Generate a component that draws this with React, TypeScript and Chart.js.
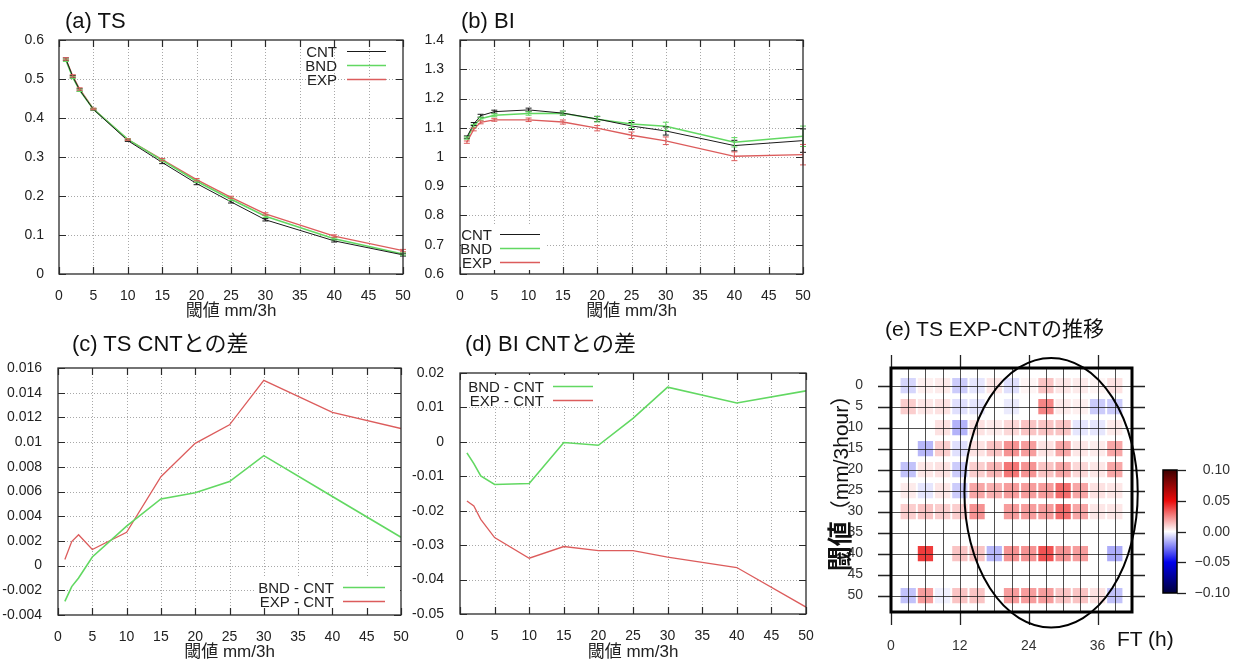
import React, { useEffect, useRef } from 'react';
import { Chart, registerables } from 'chart.js';
Chart.register(...registerables);

const FONT = "'Liberation Sans', 'Noto Sans CJK JP', Arial, sans-serif";
Chart.defaults.font.family = FONT;

// ---------- data ----------
const thresholds = [1, 2, 3, 5, 10, 15, 20, 25, 30, 40, 50];

const tsCNT = [0.551, 0.506, 0.472, 0.422, 0.342, 0.286, 0.232, 0.185, 0.139, 0.085, 0.049];
const tsBND = [0.548, 0.504, 0.471, 0.4227, 0.3452, 0.2914, 0.2379, 0.1918, 0.1479, 0.0906, 0.0513];
const tsEXP = [0.5515, 0.508, 0.4745, 0.4233, 0.3447, 0.2932, 0.2419, 0.1964, 0.154, 0.0974, 0.0601];
const tsErr = [0.003, 0.003, 0.003, 0.002, 0.002, 0.003, 0.003, 0.003, 0.003, 0.003, 0.003];

const biCNT = [1.068, 1.113, 1.141, 1.155, 1.161, 1.15, 1.13, 1.106, 1.089, 1.039, 1.056];
const biBND = [1.0648, 1.1067, 1.1311, 1.1426, 1.1489, 1.1498, 1.129, 1.1128, 1.1049, 1.0503, 1.0708];
const biEXP = [1.0508, 1.0944, 1.1185, 1.1272, 1.1272, 1.1196, 1.0984, 1.0744, 1.0555, 1.0025, 1.008];
const biErrCNT = [0.004, 0.005, 0.005, 0.005, 0.006, 0.007, 0.009, 0.012, 0.014, 0.018, 0.04];
const biErrBND = [0.004, 0.005, 0.005, 0.005, 0.006, 0.007, 0.009, 0.012, 0.014, 0.016, 0.035];
const biErrEXP = [0.004, 0.005, 0.005, 0.005, 0.006, 0.007, 0.009, 0.011, 0.013, 0.015, 0.035];

const tsDiffBND = [-0.0029, -0.0017, -0.001, 0.0007, 0.0032, 0.0054, 0.0059, 0.0068, 0.0089, 0.0056, 0.0023];
const tsDiffEXP = [0.0005, 0.00195, 0.0025, 0.0013, 0.0027, 0.0072, 0.0099, 0.0114, 0.015, 0.0124, 0.0111];

const biDiffBND = [-0.0032, -0.0063, -0.0099, -0.0124, -0.0121, -0.0002, -0.001, 0.0068, 0.0159, 0.0113, 0.0148];
const biDiffEXP = [-0.0172, -0.0186, -0.0225, -0.0278, -0.0338, -0.0304, -0.0316, -0.0316, -0.0335, -0.0365, -0.048];

const xTicks = [0, 5, 10, 15, 20, 25, 30, 35, 40, 45, 50];
const tsTicks = [0, 0.1, 0.2, 0.3, 0.4, 0.5, 0.6];
const biTicks = [0.6, 0.7, 0.8, 0.9, 1.0, 1.1, 1.2, 1.3, 1.4];
const tsDiffTicks = [-0.004, -0.002, 0, 0.002, 0.004, 0.006, 0.008, 0.01, 0.012, 0.014, 0.016];
const biDiffTicks = [-0.05, -0.04, -0.03, -0.02, -0.01, 0, 0.01, 0.02];

// heatmap (e)
const ftHours = [3, 6, 9, 12, 15, 18, 21, 24, 27, 30, 33, 36, 39];
const heatRows = [0, 5, 10, 15, 20, 25, 30, 40, 50];
const heatRow0 = [-0.008, 0.003, 0.004, -0.01, -0.005, 0.005, -0.006, 0.002, 0.012, 0.005, 0.004, 0.002, 0.006];
const heatRow5 = [0.01, 0.005, 0.006, -0.006, -0.005, 0.0, -0.004, 0.0, 0.025, 0.004, 0.003, -0.01, -0.01];
const heatRow10 = [0.0, 0.0, 0.006, -0.015, 0.006, 0.004, 0.008, 0.012, 0.012, 0.012, -0.005, -0.005, 0.004];
const heatRow15 = [0.0, -0.014, 0.01, -0.006, 0.006, 0.012, 0.022, 0.02, 0.006, 0.018, 0.005, 0.004, 0.018];
const heatRow20 = [-0.012, 0.005, 0.006, -0.01, 0.01, 0.015, 0.028, 0.022, 0.012, 0.018, 0.008, 0.005, 0.018];
const heatRow25 = [0.004, -0.005, 0.005, -0.01, 0.018, 0.016, 0.02, 0.02, 0.02, 0.03, 0.018, 0.006, 0.005];
const heatRow30 = [0.01, 0.012, 0.01, 0.01, 0.022, 0.0, 0.02, 0.02, 0.02, 0.03, 0.018, 0.005, 0.005];
const heatRow40 = [0.0, 0.04, 0.0, 0.012, 0.012, -0.014, 0.022, 0.022, 0.035, 0.022, 0.02, 0.0, -0.016];
const heatRow50 = [-0.012, 0.02, -0.003, 0.012, 0.012, 0.0, 0.02, 0.02, 0.02, 0.012, 0.012, 0.006, -0.012];
const heatValues = [heatRow0, heatRow5, heatRow10, heatRow15, heatRow20, heatRow25, heatRow30, heatRow40, heatRow50];

const heatXTicks = [0, 3, 6, 9, 12, 15, 18, 21, 24, 27, 30, 33, 36, 39];
const heatXLabels = [0, 12, 24, 36];
const heatYTicks = [0, 5, 10, 15, 20, 25, 30, 35, 40, 45, 50];
const colorbarTicks = [0.1, 0.05, 0, -0.05, -0.1];
const cmapValues = [-0.1, -0.05, 0, 0.05, 0.1];
const cmapColors = [[0, 0, 60], [0, 0, 235], [255, 255, 255], [235, 10, 10], [60, 0, 0]];

// ellipse annotation (data units)
const ellipseFT = 27.9;
const ellipseThr = 25.5;
const ellipseRadFT = 15.1;
const ellipseRadThr = 32.1;

// ---------- helpers ----------
const C_CNT = '#1a1a1a';
const C_BND = '#62d862';
const C_EXP = '#dc5c5c';

function cmap(v: number): string {
  const vals = cmapValues;
  const t = Math.max(vals[0], Math.min(vals[vals.length - 1], v));
  for (let i = 0; i < vals.length - 1; i++) {
    if (t >= vals[i] && t <= vals[i + 1]) {
      const f = (t - vals[i]) / (vals[i + 1] - vals[i]);
      const a = cmapColors[i], b = cmapColors[i + 1];
      const c = a.map((x, k) => Math.round(x + (b[k] - x) * f));
      return `rgb(${c[0]},${c[1]},${c[2]})`;
    }
  }
  return '#fff';
}

const fmtNum = (v: number) => String(Number(v.toFixed(4)));
const pts = (ys: number[]) => thresholds.map((x, i) => ({ x, y: ys[i] }));

const gnuPlugin = {
  id: 'gnu',
  beforeDatasetsDraw(chart: any) {
    const { ctx, chartArea: a, scales } = chart;
    const x = scales.x, y = scales.y;
    ctx.save();
    ctx.strokeStyle = '#a8a8a8';
    ctx.lineWidth = 1;
    ctx.setLineDash([1, 2]);
    x.ticks.forEach((t: any) => {
      const px = Math.round(x.getPixelForValue(t.value)) + 0.5;
      if (px <= a.left + 1 || px >= a.right - 1) return;
      ctx.beginPath(); ctx.moveTo(px, a.top); ctx.lineTo(px, a.bottom); ctx.stroke();
    });
    y.ticks.forEach((t: any) => {
      const py = Math.round(y.getPixelForValue(t.value)) + 0.5;
      if (py <= a.top + 1 || py >= a.bottom - 1) return;
      ctx.beginPath(); ctx.moveTo(a.left, py); ctx.lineTo(a.right, py); ctx.stroke();
    });
    ctx.restore();
  },
  afterDatasetsDraw(chart: any) {
    const { ctx, chartArea: a, scales } = chart;
    const x = scales.x, y = scales.y;
    ctx.save();
    chart.data.datasets.forEach((ds: any) => {
      if (!ds.errors) return;
      ctx.strokeStyle = ds.borderColor;
      ctx.lineWidth = 1;
      ds.data.forEach((p: any, j: number) => {
        const e = ds.errors[j];
        const px = x.getPixelForValue(p.x);
        const y0 = y.getPixelForValue(p.y - e);
        const y1 = y.getPixelForValue(p.y + e);
        ctx.beginPath();
        ctx.moveTo(px, y0); ctx.lineTo(px, y1);
        ctx.moveTo(px - 3, y0); ctx.lineTo(px + 3, y0);
        ctx.moveTo(px - 3, y1); ctx.lineTo(px + 3, y1);
        ctx.stroke();
      });
    });
    ctx.strokeStyle = '#2a2a2a';
    ctx.lineWidth = 1.3;
    ctx.strokeRect(a.left, a.top, a.right - a.left, a.bottom - a.top);
    const L = 7;
    ctx.lineWidth = 1.2;
    x.ticks.forEach((t: any) => {
      const px = Math.round(x.getPixelForValue(t.value)) + 0.5;
      ctx.beginPath();
      ctx.moveTo(px, a.bottom); ctx.lineTo(px, a.bottom - L);
      ctx.moveTo(px, a.top); ctx.lineTo(px, a.top + L);
      ctx.stroke();
    });
    y.ticks.forEach((t: any) => {
      const py = Math.round(y.getPixelForValue(t.value)) + 0.5;
      ctx.beginPath();
      ctx.moveTo(a.left, py); ctx.lineTo(a.left + L, py);
      ctx.moveTo(a.right, py); ctx.lineTo(a.right - L, py);
      ctx.stroke();
    });
    ctx.restore();
  },
  afterDraw(chart: any, _args: any, opts: any) {
    const key = opts && opts.key;
    if (!key) return;
    const { ctx, chartArea: a } = chart;
    ctx.save();
    if (key.box) {
      ctx.fillStyle = '#fff';
      ctx.fillRect(a.left + key.box[0], a.top + key.box[1], key.box[2], key.box[3]);
    }
    ctx.font = `15px ${FONT}`;
    ctx.textAlign = 'right';
    ctx.textBaseline = 'middle';
    chart.data.datasets.forEach((ds: any, i: number) => {
      const yy = Math.round(a.top + key.top + i * key.gap) + 0.5;
      ctx.fillStyle = '#222';
      ctx.fillText(ds.label, a.left + key.textRight, yy + 1);
      ctx.strokeStyle = ds.borderColor;
      ctx.lineWidth = ds.borderWidth;
      ctx.beginPath();
      ctx.moveTo(a.left + key.lineStart, yy);
      ctx.lineTo(a.left + key.lineEnd, yy);
      ctx.stroke();
    });
    ctx.restore();
  },
};

function lineConfig(p: any) {
  return {
    type: 'line',
    data: { datasets: p.datasets },
    options: {
      animation: false,
      responsive: false,
      layout: { padding: { top: p.padTop, right: p.padRight, left: 0, bottom: 0 } },
      plugins: { legend: { display: false }, tooltip: { enabled: false }, gnu: { key: p.key } },
      elements: { point: { radius: 0, hoverRadius: 0 }, line: { tension: 0 } },
      scales: {
        x: {
          type: 'linear', min: 0, max: 50,
          afterBuildTicks: (s: any) => { s.ticks = xTicks.map((v) => ({ value: v })); },
          afterFit: (s: any) => { s.height = p.xHeight; },
          grid: { display: false }, border: { display: false },
          ticks: { padding: 6, font: { size: 14 }, color: '#222', maxRotation: 0, autoSkip: false, callback: (v: number) => String(v) },
          title: { display: true, text: '閾値 mm/3h', font: { size: 17, lineHeight: 1 }, color: '#222', padding: { top: 0, bottom: p.titlePad } },
        },
        y: {
          type: 'linear', min: p.yMin, max: p.yMax,
          afterBuildTicks: (s: any) => { s.ticks = p.yTicks.map((v: number) => ({ value: v })); },
          afterFit: (s: any) => { s.width = p.yWidth; },
          grid: { display: false }, border: { display: false },
          ticks: { padding: p.yPad, font: { size: 14 }, color: '#222', autoSkip: false, callback: (v: number) => fmtNum(v) },
        },
      },
    },
    plugins: [gnuPlugin],
  };
}

const heatPlugin = {
  id: 'heat',
  afterDatasetsDraw(chart: any) {
    const { ctx, chartArea: a, scales } = chart;
    const x = scales.x, y = scales.y;
    ctx.save();
    ctx.strokeStyle = 'rgba(20,20,20,0.75)';
    ctx.lineWidth = 1;
    x.ticks.forEach((t: any) => {
      const px = Math.round(x.getPixelForValue(t.value)) + 0.5;
      if (px <= a.left + 1) return;
      ctx.beginPath(); ctx.moveTo(px, a.top); ctx.lineTo(px, a.bottom); ctx.stroke();
    });
    y.ticks.forEach((t: any) => {
      const py = Math.round(y.getPixelForValue(t.value)) + 0.5;
      ctx.beginPath(); ctx.moveTo(a.left, py); ctx.lineTo(a.right, py); ctx.stroke();
    });
    ctx.restore();
  },
  afterDraw(chart: any) {
    const { ctx, chartArea: a, scales } = chart;
    const x = scales.x, y = scales.y;
    ctx.save();
    const L = 13;
    ctx.strokeStyle = '#222';
    ctx.lineWidth = 1.3;
    heatXLabels.forEach((v) => {
      const px = Math.round(x.getPixelForValue(v)) + 0.5;
      ctx.beginPath();
      ctx.moveTo(px, a.bottom); ctx.lineTo(px, a.bottom + L);
      ctx.moveTo(px, a.top); ctx.lineTo(px, a.top - L);
      ctx.stroke();
    });
    heatYTicks.forEach((v) => {
      const py = Math.round(y.getPixelForValue(v)) + 0.5;
      ctx.beginPath();
      ctx.moveTo(a.left, py); ctx.lineTo(a.left - L, py);
      ctx.moveTo(a.right, py); ctx.lineTo(a.right + L, py);
      ctx.stroke();
    });
    ctx.strokeStyle = '#000';
    ctx.lineWidth = 3;
    ctx.strokeRect(a.left, a.top, a.right - a.left, a.bottom - a.top);
    // ellipse
    const cx = x.getPixelForValue(ellipseFT);
    const cy = y.getPixelForValue(ellipseThr);
    const rx = Math.abs(x.getPixelForValue(ellipseFT + ellipseRadFT) - cx);
    const ry = Math.abs(y.getPixelForValue(ellipseThr + ellipseRadThr) - cy);
    ctx.lineWidth = 2;
    ctx.beginPath();
    ctx.ellipse(cx, cy, rx, ry, 0, 0, Math.PI * 2);
    ctx.stroke();
    // y-axis title (rotated)
    ctx.save();
    ctx.translate(a.left - 49, a.top + 110);
    ctx.rotate(-Math.PI / 2);
    ctx.fillStyle = '#111';
    ctx.textBaseline = 'middle';
    ctx.textAlign = 'left';
    const f1 = `bold 25px ${FONT}`;
    const f2 = `21px ${FONT}`;
    const t1 = '閾値';
    const t2 = '（mm/3hour）';
    ctx.font = f1; const w1 = ctx.measureText(t1).width;
    ctx.font = f2; const w2 = ctx.measureText(t2).width;
    const sx = -(w1 + w2) / 2;
    ctx.font = f1; ctx.fillText(t1, sx, 0);
    ctx.font = f2; ctx.fillText(t2, sx + w1, 0);
    ctx.restore();
    // colorbar
    const bx = a.right + 31, bw = 14, btop = a.top + 102, bbot = a.top + 225;
    const vy = (v: number) => btop + (0.1 - v) / 0.2 * (bbot - btop);
    const g = ctx.createLinearGradient(0, btop, 0, bbot);
    cmapValues.forEach((v, i) => {
      const c = cmapColors[i];
      g.addColorStop((0.1 - v) / 0.2, `rgb(${c[0]},${c[1]},${c[2]})`);
    });
    ctx.fillStyle = g;
    ctx.fillRect(bx, btop, bw, bbot - btop);
    ctx.strokeStyle = '#000';
    ctx.lineWidth = 1.5;
    ctx.strokeRect(bx, btop, bw, bbot - btop);
    ctx.lineWidth = 1.3;
    ctx.strokeStyle = '#222';
    ctx.font = `14px ${FONT}`;
    ctx.fillStyle = '#333';
    ctx.textAlign = 'right';
    ctx.textBaseline = 'middle';
    colorbarTicks.forEach((v) => {
      const py = Math.round(vy(v)) + 0.5;
      ctx.beginPath(); ctx.moveTo(bx + bw, py); ctx.lineTo(bx + bw + 9, py); ctx.stroke();
      ctx.fillText(v.toFixed(2).replace('-', '\u2212'), bx + bw + 53, py);
    });
    ctx.restore();
  },
};

function heatConfig() {
  const data: any[] = [];
  const colors: string[] = [];
  heatRows.forEach((thr, r) => {
    ftHours.forEach((ft, c) => {
      const v = heatValues[r][c];
      data.push({ x: ft, y: thr, v });
      colors.push(cmap(v));
    });
  });
  return {
    type: 'scatter',
    data: {
      datasets: [{
        data, pointStyle: 'rect', pointRadius: 10.8, pointHoverRadius: 10.8,
        pointBackgroundColor: colors, pointBorderWidth: 0, borderWidth: 0,
      }],
    },
    options: {
      animation: false,
      responsive: false,
      layout: { padding: { top: 58, right: 111, left: 0, bottom: 0 } },
      plugins: { legend: { display: false }, tooltip: { enabled: false } },
      scales: {
        x: {
          type: 'linear', min: 0, max: 42,
          afterBuildTicks: (s: any) => { s.ticks = heatXTicks.map((v) => ({ value: v })); },
          afterFit: (s: any) => { s.height = 51; },
          grid: { display: false }, border: { display: false },
          ticks: { padding: 18, font: { size: 14 }, color: '#333', maxRotation: 0, autoSkip: false,
            callback: (v: number) => (heatXLabels.includes(v) ? String(v) : '') },
        },
        y: {
          type: 'linear', reverse: true, min: -4.2, max: 53.9,
          afterBuildTicks: (s: any) => { s.ticks = heatYTicks.map((v) => ({ value: v })); },
          afterFit: (s: any) => { s.width = 71; },
          grid: { display: false }, border: { display: false },
          ticks: { padding: 20, font: { size: 14 }, color: '#333', autoSkip: false, callback: (v: number) => String(v) },
        },
      },
    },
    plugins: [heatPlugin],
  };
}

function Panel(props: { left: number; top: number; w: number; h: number; make: () => any }) {
  const ref = useRef<HTMLCanvasElement | null>(null);
  useEffect(() => {
    if (!ref.current) return;
    const chart = new Chart(ref.current, props.make());
    return () => chart.destroy();
  }, []);
  return (
    <canvas
      ref={ref}
      width={props.w}
      height={props.h}
      style={{ position: 'absolute', left: props.left, top: props.top, width: props.w, height: props.h }}
    />
  );
}

const makeA = () => lineConfig({
  datasets: [
    { label: 'CNT', data: pts(tsCNT), borderColor: C_CNT, borderWidth: 1, errors: tsErr },
    { label: 'BND', data: pts(tsBND), borderColor: C_BND, borderWidth: 1.6, errors: tsErr },
    { label: 'EXP', data: pts(tsEXP), borderColor: C_EXP, borderWidth: 1.3, errors: tsErr },
  ],
  padTop: 40, padRight: 17, xHeight: 46, titlePad: 0, yWidth: 59, yPad: 7,
  yMin: 0, yMax: 0.6, yTicks: tsTicks,
  key: { textRight: 278, lineStart: 288, lineEnd: 327, top: 11, gap: 14 },
});

const makeB = () => lineConfig({
  datasets: [
    { label: 'CNT', data: pts(biCNT), borderColor: C_CNT, borderWidth: 1, errors: biErrCNT },
    { label: 'BND', data: pts(biBND), borderColor: C_BND, borderWidth: 1.6, errors: biErrBND },
    { label: 'EXP', data: pts(biEXP), borderColor: C_EXP, borderWidth: 1.3, errors: biErrEXP },
  ],
  padTop: 40, padRight: 17, xHeight: 46, titlePad: 0, yWidth: 60, yPad: 8,
  yMin: 0.6, yMax: 1.4, yTicks: biTicks,
  key: { textRight: 32, lineStart: 40, lineEnd: 80, top: 194, gap: 14, box: [1, 186, 86, 44] },
});

const makeC = () => lineConfig({
  datasets: [
    { label: 'BND - CNT', data: pts(tsDiffBND), borderColor: C_BND, borderWidth: 1.6 },
    { label: 'EXP - CNT', data: pts(tsDiffEXP), borderColor: C_EXP, borderWidth: 1.3 },
  ],
  padTop: 48, padRight: 19, xHeight: 48, titlePad: 2, yWidth: 58, yPad: 8,
  yMin: -0.004, yMax: 0.016, yTicks: tsDiffTicks,
  key: { textRight: 276, lineStart: 285, lineEnd: 327, top: 219, gap: 14, box: [198, 209, 144, 30] },
});

const makeD = () => lineConfig({
  datasets: [
    { label: 'BND - CNT', data: pts(biDiffBND), borderColor: C_BND, borderWidth: 1.6 },
    { label: 'EXP - CNT', data: pts(biDiffEXP), borderColor: C_EXP, borderWidth: 1.3 },
  ],
  padTop: 53, padRight: 14, xHeight: 49, titlePad: 2, yWidth: 60, yPad: 8,
  yMin: -0.05, yMax: 0.02, yTicks: biDiffTicks,
  key: { textRight: 84, lineStart: 93, lineEnd: 133, top: 13, gap: 13.5, box: [1, 2, 140, 31] },
});

function Title(props: { x: number; cy: number; size: number; text: string }) {
  return (
    <div
      style={{
        position: 'absolute', left: props.x, top: props.cy - props.size / 2,
        fontSize: props.size, lineHeight: `${props.size}px`, whiteSpace: 'nowrap', color: '#111', fontFamily: FONT,
      }}
    >
      {props.text}
    </div>
  );
}

export default function App() {
  return (
    <div style={{ position: 'fixed', left: 0, top: 0, width: 1243, height: 663, background: '#fff', overflow: 'hidden' }}>
      <Panel left={0} top={0} w={420} h={320} make={makeA} />
      <Panel left={400} top={0} w={420} h={320} make={makeB} />
      <Panel left={0} top={320} w={420} h={343} make={makeC} />
      <Panel left={400} top={320} w={420} h={343} make={makeD} />
      <Panel left={820} top={310} w={423} h={353} make={heatConfig} />
      <Title x={65} cy={21} size={22} text="(a) TS" />
      <Title x={461} cy={21} size={22} text="(b) BI" />
      <Title x={72} cy={344} size={22} text="(c) TS CNTとの差" />
      <Title x={465} cy={344} size={22} text="(d) BI CNTとの差" />
      <Title x={885} cy={328} size={21} text="(e) TS EXP-CNTの推移" />
      <Title x={1117} cy={638} size={21} text="FT (h)" />
    </div>
  );
}
